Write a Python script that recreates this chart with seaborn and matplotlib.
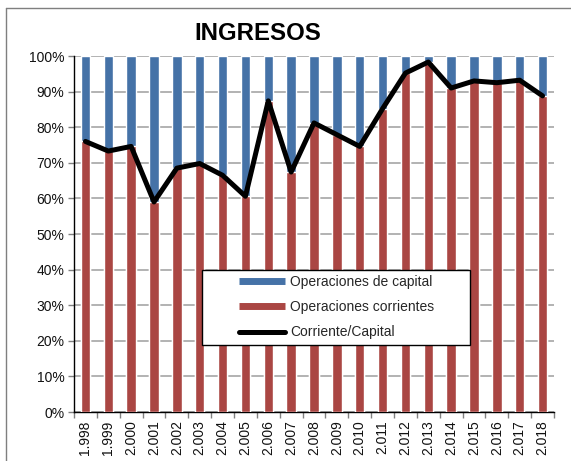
import numpy as np
import pandas as pd
import matplotlib
matplotlib.use("Agg")
import matplotlib.pyplot as plt
from matplotlib.lines import Line2D
from matplotlib.legend_handler import HandlerLine2D
from matplotlib.ticker import PercentFormatter, FixedLocator
import seaborn as sns

years = ["1.998", "1.999", "2.000", "2.001", "2.002", "2.003", "2.004", "2.005",
         "2.006", "2.007", "2.008", "2.009", "2.010", "2.011", "2.012", "2.013",
         "2.014", "2.015", "2.016", "2.017", "2.018"]
corrientes = [76.0, 73.3, 74.6, 59.0, 68.5, 69.8, 66.5, 60.6, 87.4, 67.4, 81.2,
              77.9, 74.6, 85.2, 95.2, 98.3, 91.0, 93.0, 92.5, 93.2, 88.8]
capital = [100 - v for v in corrientes]
total = [c + k for c, k in zip(corrientes, capital)]

BLUE = "#4572A7"
RED = "#AA4643"

sns.set_theme(style="white")
plt.rcParams["font.family"] = ["Liberation Sans", "DejaVu Sans"]

df = pd.DataFrame({"year": years, "corr": corrientes, "total": total})

fig = plt.figure(figsize=(5.71, 4.61), dpi=100)
ax = fig.add_axes([74/571, 1-412/461, 480/571, 356/461])

sns.barplot(data=df, x="year", y="total", color=BLUE, width=0.41,
            saturation=1, ax=ax, zorder=2)
sns.barplot(data=df, x="year", y="corr", color=RED, width=0.41,
            saturation=1, ax=ax, zorder=3)
sns.pointplot(data=df, x="year", y="corr", color="black", marker="",
              linewidth=3.6, errorbar=None, ax=ax, zorder=4)

ax.set_xlim(-0.5, len(years) - 0.5)
ax.set_ylim(0, 100)
ax.set_yticks(np.arange(0, 101, 10))
ax.yaxis.set_major_formatter(PercentFormatter(decimals=0))
ax.yaxis.grid(True, color="#a6a6a6", linewidth=1.2, zorder=0)
ax.set_axisbelow(True)
ax.set_xlabel("")
ax.set_ylabel("")

for s in ["top", "right"]:
    ax.spines[s].set_visible(False)
for s in ["left", "bottom"]:
    ax.spines[s].set_color("black")
    ax.spines[s].set_linewidth(1.0)

ax.tick_params(axis="y", which="major", direction="out", length=4, width=1,
               color="#808080", labelsize=10, labelcolor="#111111", pad=3, left=True)
ax.tick_params(axis="x", which="major", length=0, labelsize=10,
               labelcolor="#111111", labelrotation=90, pad=6)
ax.xaxis.set_minor_locator(FixedLocator(np.arange(-0.5, len(years), 1.0)))
ax.tick_params(axis="x", which="minor", direction="out", length=4, width=1,
               color="#808080", bottom=True)

handles = [Line2D([0], [0], color=BLUE, lw=5, solid_capstyle="butt"),
           Line2D([0], [0], color=RED, lw=5, solid_capstyle="butt"),
           Line2D([0], [0], color="black", lw=3.6, solid_capstyle="round")]
labels = ["Operaciones de capital", "Operaciones corrientes", "Corriente/Capital"]
hmap = {h: HandlerLine2D(xpad=2.3) for h in handles}
leg = ax.legend(handles, labels, loc="upper left",
                bbox_to_anchor=(0.267, 0.399, 0.558, 0.0), mode="expand",
                fontsize=10, frameon=True, fancybox=False, handlelength=5.6,
                handletextpad=0.35, borderpad=0.38, labelspacing=0.8,
                borderaxespad=0, handler_map=hmap)
leg.get_frame().set_edgecolor("black")
leg.get_frame().set_linewidth(1.0)
leg.get_frame().set_facecolor("white")
leg.get_frame().set_alpha(1)
leg.set_zorder(10)

fig.text(258/571, 1-33/461, "INGRESOS", ha="center", va="center",
         fontsize=17.3, fontweight="bold", color="black")

fig.add_artist(Line2D([6/571, 6/571], [0, 1-8/461], transform=fig.transFigure,
                      color="#7f7f7f", lw=1))
fig.add_artist(Line2D([6/571, 1], [1-8/461, 1-8/461], transform=fig.transFigure,
                      color="#7f7f7f", lw=1))

fig.savefig("out.png", dpi=100)
